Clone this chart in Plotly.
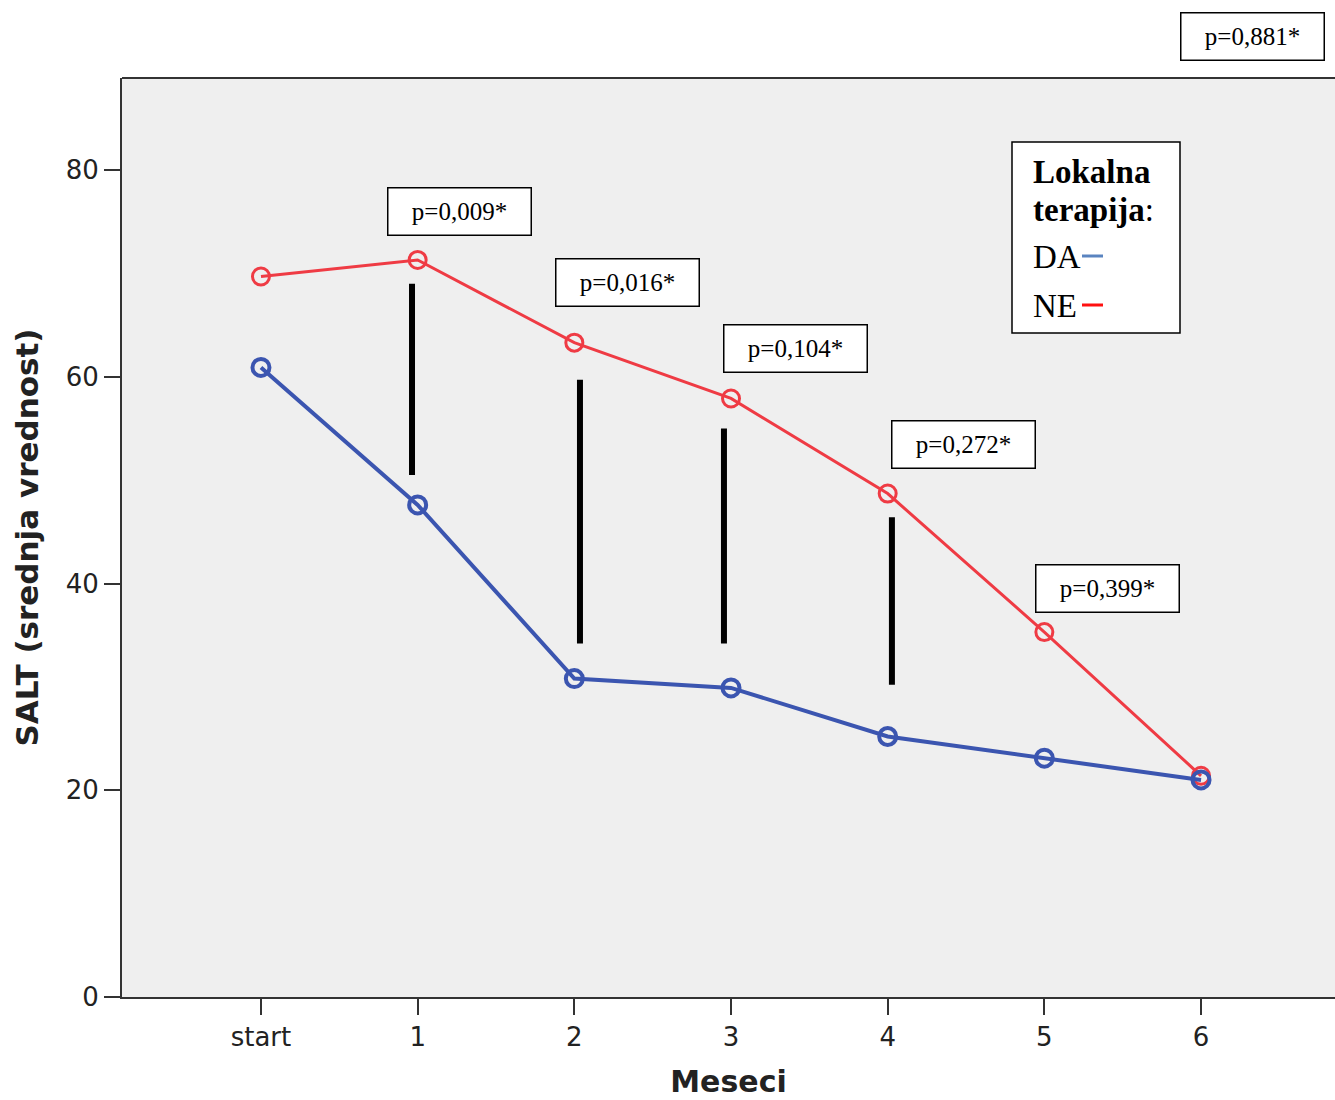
import plotly.graph_objects as go

# Months of follow-up
months = ["start", "1", "2", "3", "4", "5", "6"]
x_pos = [0, 1, 2, 3, 4, 5, 6]

# Mean SALT score by group (local therapy yes / no)
salt_da = [60.9, 47.6, 30.8, 29.9, 25.2, 23.1, 21.0]
salt_ne = [69.7, 71.3, 63.3, 57.9, 48.7, 35.3, 21.4]

# Vertical separators between groups
sep_x = [0.964, 2.036, 2.955, 4.027]
sep_top = [69.0, 59.7, 55.0, 46.4]
sep_bottom = [50.5, 34.2, 34.2, 30.2]

# p-values per month and where their boxes sit
p_labels = ["p=0,009*", "p=0,016*", "p=0,104*", "p=0,272*", "p=0,399*"]
p_x = [1.27, 2.339, 3.414, 4.486, 5.405]
p_y = [76.0, 69.07, 62.7, 53.4, 39.47]
p_last = "p=0,881*"

BLUE = "#3b55b0"
RED = "#ef3b44"
SERIF = "Liberation Serif, DejaVu Serif, serif"
SANS = "DejaVu Sans, Verdana, sans-serif"

fig = go.Figure()

fig.add_trace(go.Scatter(
    x=x_pos, y=salt_ne, mode="lines+markers", name="NE",
    line=dict(color=RED, width=3),
    marker=dict(symbol="circle-open", size=17, color=RED, line=dict(width=3)),
    showlegend=False,
))
fig.add_trace(go.Scatter(
    x=x_pos, y=salt_da, mode="lines+markers", name="DA",
    line=dict(color=BLUE, width=4),
    marker=dict(symbol="circle-open", size=17, color=BLUE, line=dict(width=4)),
    showlegend=False,
))

shapes = []
for sx, y0, y1 in zip(sep_x, sep_bottom, sep_top):
    shapes.append(dict(type="line", xref="x", yref="y", x0=sx, x1=sx, y0=y0, y1=y1,
                       line=dict(color="black", width=6)))

# top frame of the plot area
shapes.append(dict(type="line", xref="paper", yref="paper", x0=0, x1=1, y0=1, y1=1,
                   line=dict(color="#333333", width=2)))

W, H = 1335, 1100
ML, MR, MT, MB = 122, 0, 78, 103
PW, PH = W - ML - MR, H - MT - MB


def px_to_paper(px, py):
    return (px - ML) / PW, (H - MB - py) / PH


# legend box
lx0, ly0 = px_to_paper(1012, 333)
lx1, ly1 = px_to_paper(1180, 142)
shapes.append(dict(type="rect", xref="paper", yref="paper", x0=lx0, x1=lx1, y0=ly0, y1=ly1,
                   line=dict(color="black", width=1.5), fillcolor="white"))
# legend swatches
for (c, yy) in [("#5a84c0", 256), ("#ff1010", 305)]:
    a0, b0 = px_to_paper(1082, yy)
    a1, _ = px_to_paper(1103, yy)
    shapes.append(dict(type="line", xref="paper", yref="paper", x0=a0, x1=a1, y0=b0, y1=b0,
                       line=dict(color=c, width=3)))

annotations = []
for t, ax, ay in zip(p_labels, p_x, p_y):
    annotations.append(dict(
        x=ax, y=ay, xref="x", yref="y", text=t, showarrow=False,
        xanchor="center", yanchor="middle",
        font=dict(family=SERIF, size=25, color="black"),
        bgcolor="white", bordercolor="black", borderwidth=1.5,
        width=140, height=44, align="center",
    ))

ax_, ay_ = px_to_paper(1252, 37)
annotations.append(dict(
    x=ax_, y=ay_, xref="paper", yref="paper", text=p_last, showarrow=False,
    xanchor="center", yanchor="middle",
    font=dict(family=SERIF, size=25, color="black"),
    bgcolor="white", bordercolor="black", borderwidth=1.5,
    width=140, height=44, align="center",
))

legend_rows = [("<b>Lokalna</b>", 172), ("<b>terapija</b>:", 210), ("DA", 257), ("NE", 306)]
for txt, yy in legend_rows:
    a, b = px_to_paper(1031, yy)
    annotations.append(dict(
        x=a, y=b, xref="paper", yref="paper", text=txt, showarrow=False,
        xanchor="left", yanchor="middle",
        font=dict(family=SERIF, size=33, color="black"),
    ))

fig.update_layout(
    width=W, height=H,
    margin=dict(l=ML, r=MR, t=MT, b=MB, pad=0),
    paper_bgcolor="white",
    plot_bgcolor="#efefef",
    shapes=shapes,
    annotations=annotations,
    xaxis=dict(
        range=[-0.887, 6.855], tickmode="array", tickvals=x_pos, ticktext=months,
        showgrid=False, zeroline=False, showline=True, linecolor="#333333", linewidth=2,
        ticks="outside", ticklen=16, tickwidth=2, tickcolor="#333333",
        tickfont=dict(family=SANS, size=26, color="#222222"),
        title=dict(text="<b>Meseci</b>", font=dict(family=SANS, size=30, color="#222222"), standoff=20),
    ),
    yaxis=dict(
        range=[0, 88.9], tickmode="array", tickvals=[0, 20, 40, 60, 80],
        showgrid=False, zeroline=False, showline=True, linecolor="#333333", linewidth=2,
        ticks="outside", ticklen=16, tickwidth=2, tickcolor="#333333",
        tickfont=dict(family=SANS, size=26, color="#222222"),
        title=dict(text="<b>SALT (srednja vrednost)</b>", font=dict(family=SANS, size=31, color="#222222"), standoff=18),
    ),
)

fig.write_html("out.html")
